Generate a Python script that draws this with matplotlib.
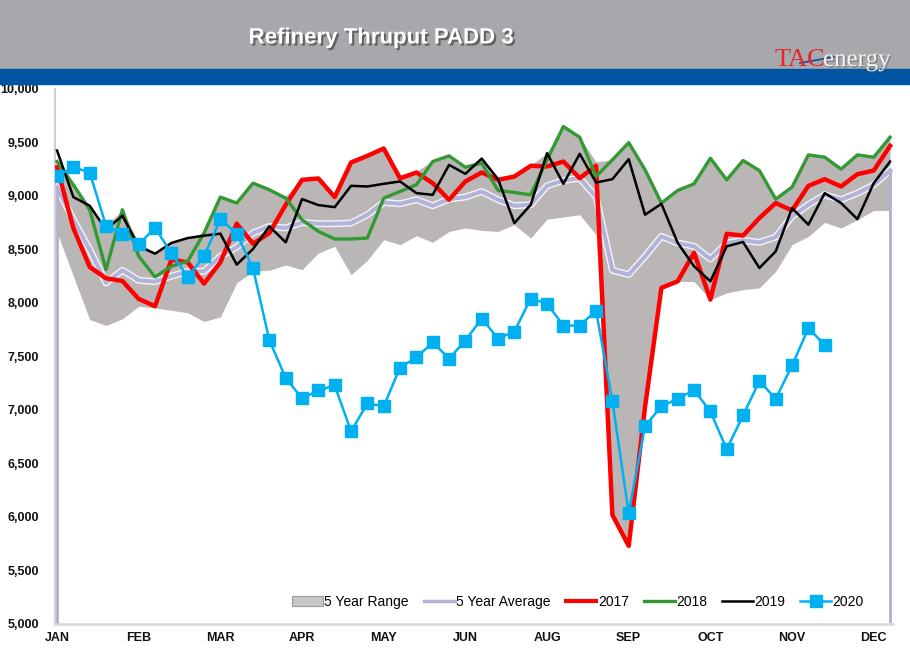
import numpy as np
import matplotlib.pyplot as plt
import matplotlib.patheffects as pe
from matplotlib.patches import Rectangle, Patch
from matplotlib.lines import Line2D

plt.rcParams['font.family'] = ['Liberation Sans', 'DejaVu Sans']

# weekly refinery thruput, PADD 3 (kb/d), 52 weeks
weeks = np.arange(52)
month_pos = [0, 5, 10, 15, 20, 25, 30, 35, 40, 45, 50]
month_labels = ['JAN', 'FEB', 'MAR', 'APR', 'MAY', 'JUN', 'AUG', 'SEP', 'OCT', 'NOV', 'DEC']

range_low = [8660, 8250, 7845, 7790, 7852, 7970, 7954, 7932, 7908, 7827, 7870, 8188, 8296,
             8306, 8355, 8312, 8467, 8530, 8265, 8399, 8592, 8545, 8629, 8567, 8669, 8701,
             8679, 8669, 8732, 8607, 8784, 8803, 8825, 8638, 6020, 5730, 7030, 8141, 8203,
             8200, 8032, 8094, 8125, 8141, 8296, 8545, 8623, 8753, 8701, 8778, 8865, 8865]
range_high = [9330, 9105, 8900, 8720, 8871, 8560, 8470, 8561, 8607, 8660, 9000, 8940, 9120,
              9060, 9000, 9160, 9170, 9000, 9313, 9375, 9444, 9200, 9230, 9330, 9375, 9269,
              9350, 9157, 9182, 9290, 9400, 9649, 9549, 9320, 9338, 9499, 9245, 8934, 9052,
              9114, 9353, 9151, 9332, 9238, 8971, 9083, 9384, 9363, 9251, 9384, 9363, 9549]
avg_5yr = [9083, 8778, 8498, 8188, 8306, 8212, 8200, 8250, 8296, 8296, 8436, 8523, 8654,
           8716, 8701, 8753, 8741, 8741, 8747, 8825, 8940, 8927, 8965, 8909, 8971, 8990,
           9042, 8965, 8909, 8918, 9095, 9145, 9167, 8990, 8306, 8265, 8436, 8623, 8561,
           8530, 8411, 8561, 8585, 8567, 8617, 8809, 8918, 9011, 8965, 9027, 9105, 9238]
y2017 = [9269, 8700, 8337, 8231, 8206, 8038, 7970, 8405, 8380, 8181, 8380, 8741, 8554,
         8654, 8918, 9151, 9164, 8990, 9313, 9375, 9444, 9164, 9220, 9120, 8965, 9136,
         9220, 9151, 9182, 9282, 9276, 9322, 9167, 9282, 6020, 5730, 7030, 8141, 8203,
         8470, 8032, 8647, 8630, 8794, 8934, 8865, 9095, 9157, 9089, 9204, 9238, 9468]
y2018 = [9322, 9105, 8871, 8312, 8871, 8436, 8243, 8343, 8390, 8654, 8990, 8934, 9120,
         9058, 8980, 8778, 8669, 8598, 8598, 8607, 8980, 9042, 9105, 9322, 9375, 9269,
         9307, 9052, 9033, 9011, 9338, 9649, 9549, 9182, 9338, 9499, 9245, 8934, 9052,
         9114, 9353, 9151, 9332, 9238, 8971, 9083, 9384, 9363, 9251, 9384, 9363, 9549]
y2019 = [9425, 8990, 8909, 8685, 8816, 8530, 8461, 8561, 8607, 8629, 8648, 8359, 8505,
         8716, 8567, 8971, 8915, 8896, 9095, 9089, 9114, 9136, 9027, 9011, 9291, 9207,
         9350, 9157, 8747, 8918, 9400, 9114, 9394, 9126, 9157, 9344, 8825, 8927, 8561,
         8343, 8203, 8530, 8570, 8327, 8483, 8887, 8732, 9027, 8934, 8784, 9120, 9322]
y2020 = [9188, 9270, 9219, 8722, 8647, 8548, 8703, 8467, 8243, 8436, 8784, 8647, 8324,
         7652, 7300, 7108, 7183, 7230, 6800, 7062, 7034, 7397, 7491, 7631, 7481, 7649,
         7855, 7668, 7733, 8041, 7994, 7789, 7789, 7929, 7083, 6036, 6850, 7034, 7105,
         7186, 6987, 6633, 6950, 7270, 7105, 7416, 7764, 7609]

fig = plt.figure(figsize=(9.1, 6.61), dpi=100)
H = 661.0

# header band + blue stripe
fig.patches.append(Rectangle((0, (H - 69) / H), 1, 69 / H, transform=fig.transFigure,
                             color='#a7a8ab', zorder=0))
fig.patches.append(Rectangle((0, (H - 84) / H), 1, 15 / H, transform=fig.transFigure,
                             color='#0054a4', zorder=0))

fig.text(381 / 910, 1 - 38 / H, 'Refinery Thruput PADD 3', color='white', fontsize=16,
         fontweight='bold', ha='center', va='center',
         path_effects=[pe.withSimplePatchShadow(offset=(1.5, -1.5), shadow_rgbFace='#333333', alpha=0.6)])

# logo
fig.text(775 / 910, 1 - 66 / H, 'TAC', color='#e3262c', fontsize=19, family='Liberation Serif',
         ha='left', va='baseline')
fig.text(823 / 910, 1 - 66 / H, 'energy', color='#f4f4f4', fontsize=18, family='Liberation Serif',
         ha='left', va='baseline',
         path_effects=[pe.withSimplePatchShadow(offset=(1, -1), shadow_rgbFace='#555555', alpha=0.5)])
fig.lines.append(Line2D([800 / 910, 834 / 910], [1 - 63 / H, 1 - 57 / H], transform=fig.transFigure,
                        color='#1c4fa0', lw=1.3))

ax = fig.add_axes([55.4 / 910, (H - 624) / H, (893 - 55.4) / 910, (624 - 89) / H])

# 5 year range
ax.fill_between(weeks, range_low, range_high, color='#bab6b5', lw=0, zorder=1)
# 5 year average with light glow
ax.plot(weeks, avg_5yr, color='#b3b3d9', lw=3, zorder=2,
        path_effects=[pe.Stroke(linewidth=5, foreground='#f4f4f8'), pe.Normal()])
ax.vlines([0, 51], 5000, [avg_5yr[0], avg_5yr[-1]], color='#b0b0d2', lw=2, zorder=2)

ax.plot(weeks, y2017, color='#ff0000', lw=3.2, zorder=3)
ax.plot(weeks, y2018, color='#339933', lw=2.4, zorder=4)
ax.plot(weeks, y2019, color='black', lw=1.8, zorder=5)
ax.plot(weeks[:len(y2020)], y2020, color='#00b0f0', lw=1.8, marker='s', markersize=8, zorder=6)

ax.set_xlim(-0.1, 51.18)
ax.set_ylim(5000, 10000)
ax.set_yticks(np.arange(5000, 10001, 500))
ax.set_yticklabels([f'{v:,}' for v in range(5000, 10001, 500)])
ax.set_xticks(month_pos)
ax.set_xticklabels(month_labels)
ax.tick_params(axis='y', length=0, pad=12, labelsize=9)
ax.tick_params(axis='x', length=0, pad=6, labelsize=9)
for lab in ax.get_xticklabels() + ax.get_yticklabels():
    lab.set_fontweight('bold')
    lab.set_color('#111111')

for s in ['top', 'right']:
    ax.spines[s].set_visible(False)
ax.spines['left'].set_color('#d0d0dc')
ax.spines['left'].set_linewidth(1.5)
ax.spines['bottom'].set_color('#d9d9d9')
ax.spines['bottom'].set_linewidth(2)

handles = [Patch(facecolor='#c8c6c6', edgecolor='#9a9a9a', lw=0.8),
           Line2D([], [], color='#b3b3d9', lw=2.5),
           Line2D([], [], color='#ff0000', lw=3),
           Line2D([], [], color='#339933', lw=2.4),
           Line2D([], [], color='black', lw=1.8),
           Line2D([], [], color='#00b0f0', lw=1.8, marker='s', markersize=8)]
labels = ['5 Year Range', '5 Year Average', '2017', '2018', '2019', '2020']
ax.legend(handles, labels, loc='center', bbox_to_anchor=(0.624, 0.041), ncol=6, frameon=False,
          fontsize=10, handlelength=2.2, handletextpad=0.1, columnspacing=1.1)

plt.savefig('out.png', dpi=100)
